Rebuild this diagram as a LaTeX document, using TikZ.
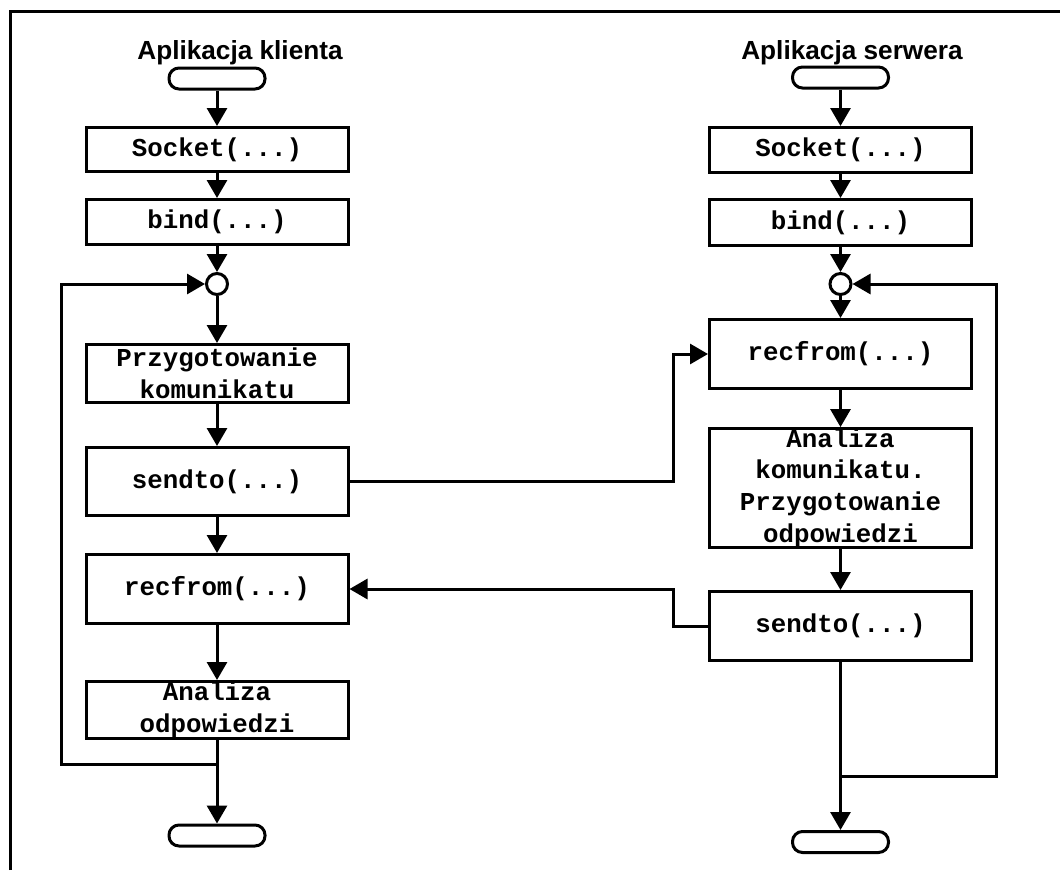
\documentclass[tikz,border=0pt]{standalone}
\usepackage{fontspec}
\setmainfont{Liberation Sans}
\newfontfamily\monof{Liberation Mono}
\usetikzlibrary{arrows.meta}
\begin{document}
\begin{tikzpicture}[x=1pt,y=-1pt,
 line width=3pt,
 box/.style={draw, rectangle, minimum width=262pt, inner sep=0.5pt, align=center, font=\monof\bfseries\fontsize{25.8}{31.6}\selectfont},
 term/.style={draw, rectangle, rounded corners=10pt, minimum width=96pt, minimum height=21pt, inner sep=0pt},
 junc/.style={draw, circle, minimum size=21pt, inner sep=0pt},
 title/.style={font=\bfseries\fontsize{26.2}{30}\selectfont, anchor=base},
 arr/.style={-{Triangle[length=18pt,width=20pt]}}
]
\useasboundingbox (0,0) rectangle (1060,870);
\draw (10,870) -- (10,11) -- (1060,11);

% titles
\node[title] (titleL) at (240,59) {Aplikacja klienta};
\node[title] (titleR) at (852,59) {Aplikacja serwera};

% client column
\node[term] (startL) at (217,78.5) {};
\node[box, minimum height=44pt] (sockL) at (217,149.5) {Socket(...)};
\node[box, minimum height=45pt] (bindL) at (217,222) {bind(...)};
\node[junc] (circL) at (217,284) {};
\node[box, minimum height=58pt] (prepL) at (217,373.5) {Przygotowanie\\komunikatu};
\node[box, minimum height=68pt] (sendL) at (217,481.5) {sendto(...)};
\node[box, minimum height=69pt] (recL) at (217,589) {recfrom(...)};
\node[box, minimum height=57pt] (anaL) at (217,710) {Analiza\\odpowiedzi};
\node[term] (endL) at (217,835.5) {};

% server column
\node[term] (startR) at (840.5,77.5) {};
\node[box, minimum height=45pt] (sockR) at (840.5,150) {Socket(...)};
\node[box, minimum height=46pt] (bindR) at (840.5,222.5) {bind(...)};
\node[junc] (circR) at (840.5,284) {};
\node[box, minimum height=69pt] (recR) at (840.5,354) {recfrom(...)};
\node[box, minimum height=117pt, inner sep=0pt] (anaR) at (840.5,488) {Analiza\\komunikatu.\\Przygotowanie\\odpowiedzi};
\node[box, minimum height=69pt] (sendR) at (840.5,626) {sendto(...)};
\node[term] (endR) at (840.5,842) {};

% client flow
\draw[arr] (startL) -- (sockL);
\draw[arr] (sockL) -- (bindL);
\draw[arr] (bindL) -- (circL);
\draw[arr] (circL) -- (prepL);
\draw[arr] (prepL) -- (sendL);
\draw[arr] (sendL) -- (recL);
\draw[arr] (recL) -- (anaL);
\draw[arr] (anaL) -- (endL);
\coordinate (jL) at (217,764);
\coordinate (lxL) at (61,0);
\draw[arr] (jL) -- (jL -| lxL) |- (circL.west);

% server flow
\draw[arr] (startR) -- (sockR);
\draw[arr] (sockR) -- (bindR);
\draw[arr] (bindR) -- (circR);
\draw[arr] (circR) -- (recR);
\draw[arr] (recR) -- (anaR);
\draw[arr] (anaR) -- (sendR);
\draw[arr] (sendR) -- (endR);
\coordinate (jR) at (840.5,776);
\coordinate (lxR) at (996,0);
\draw[arr] (jR) -- (jR -| lxR) |- (circR.east);

% messages between applications
\coordinate (mx) at (673,0);
\draw[arr] (sendL.east) -- (sendL.east -| mx) |- (recR.west);
\draw[arr] (sendR.west) -- (sendR.west -| mx) |- (recL.east);
\end{tikzpicture}
\end{document}
